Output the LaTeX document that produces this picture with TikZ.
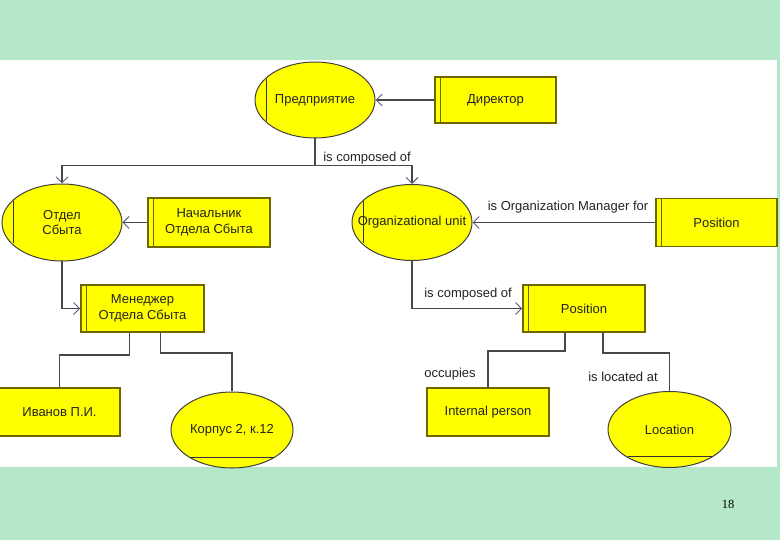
\documentclass[tikz,border=0pt]{standalone}
\usepackage{fontspec}
\setmainfont{Liberation Sans}
\newfontfamily\numfont{Liberation Serif}
\usetikzlibrary{shapes.geometric,arrows.meta,calc}
\definecolor{bggreen}{RGB}{180,232,201}
\definecolor{ylw}{RGB}{255,255,0}
\definecolor{boxedge}{RGB}{110,102,0}
\definecolor{connc}{RGB}{72,72,72}
\definecolor{arrc}{RGB}{90,95,120}
\definecolor{txtc}{RGB}{35,35,35}
\newcommand\dblleft[1]{\draw[dblline] ($(#1.north west)+(6,0)$) -- ($(#1.south west)+(6,0)$);}
\newcommand\elside[1]{\draw[elline] ($(#1.center)+(-49,-21)$) -- ($(#1.center)+(-49,21)$);}
\newcommand\elbottom[1]{\draw[elline] ($(#1.center)+(-42,27)$) -- ($(#1.center)+(42,27)$);}
\begin{document}
\begin{tikzpicture}[x=1pt,y=-1pt,
  ent/.style={draw=boxedge, line width=1.6pt, fill=ylw, inner sep=0pt,
    font=\fontsize{13}{15.5}\selectfont, text=txtc, align=center},
  rel/.style={ellipse, draw=black!75, line width=1pt, fill=ylw, inner sep=0pt},
  eltext/.style={font=\fontsize{13}{15.5}\selectfont, text=txtc, align=center},
  dblline/.style={draw=boxedge, line width=1pt},
  elline/.style={draw=black!80, line width=1pt},
  conn/.style={draw=connc, line width=1.7pt},
  arr/.style={conn, -{Straight Barb[length=6pt,width=12pt,line width=0.9pt,color=arrc]}},
  lbl/.style={font=\fontsize{13}{15.5}\selectfont, text=txtc, inner sep=0pt}
]
\useasboundingbox (0,0) rectangle (780,540);
\fill[bggreen] (0,0) rectangle (780,540);
\fill[white] (0,60) rectangle (777,467);

% entities (ellipses)
\node[rel, minimum width=120pt, minimum height=76pt,
  label={[eltext]center:Предприятие}] (pred) at (315,100) {};
\node[rel, minimum width=120pt, minimum height=77pt,
  label={[eltext]center:Отдел\\Сбыта}] (otdel) at (62,222.5) {};
\node[rel, minimum width=120pt, minimum height=76pt,
  label={[eltext]center:Organizational unit}] (org) at (412,222.5) {};
\node[rel, minimum width=122pt, minimum height=76pt,
  label={[eltext]center:Корпус 2, к.12}] (korp) at (232,430) {};
\node[rel, minimum width=123pt, minimum height=76pt,
  label={[eltext]center:Location}] (loc) at (669.5,429.5) {};
\elside{pred}
\elside{otdel}
\elside{org}
\elbottom{korp}
\elbottom{loc}

% entities (boxes)
\node[ent, minimum width=121pt, minimum height=46pt] (dir) at (495.5,100) {Директор};
\node[ent, minimum width=122pt, minimum height=49pt] (nach) at (209,222.5) {Начальник\\Отдела Сбыта};
\node[ent, minimum width=123pt, minimum height=47pt] (men) at (142.5,308.5) {Менеджер\\Отдела Сбыта};
\node[ent, minimum width=121pt, minimum height=48pt] (ivan) at (59.5,412) {Иванов П.И.};
\node[ent, minimum width=121pt, minimum height=48pt] (posr) at (716.5,222.5) {Position};
\node[ent, minimum width=122pt, minimum height=47pt] (posm) at (584,308.5) {Position};
\node[ent, minimum width=122pt, minimum height=48pt] (inter) at (488,412) {Internal person};
\dblleft{dir}
\dblleft{nach}
\dblleft{men}
\dblleft{posr}
\dblleft{posm}

% connectors
\draw[arr] (dir.west) -- (pred.east);
\draw[arr] (pred.south) -- ++(0,27) -| (otdel.north);
\draw[arr] (pred.south) -- ++(0,27) -| (org.north);
\draw[arr] (nach.west) -- (otdel.east);
\draw[arr] (otdel.south) |- (men.west);
\draw[conn] ($(men.south)+(-13,0)$) -- ++(0,22) -| (ivan.north);
\draw[conn] ($(men.south)+(18,0)$) -- ++(0,20) -| (korp.north);
\draw[arr] (posr.west) -- (org.east);
\draw[arr] (org.south) |- (posm.west);
\draw[conn] ($(posm.south)+(-19,0)$) -- ++(0,18) -| (inter.north);
\draw[conn] ($(posm.south)+(19,0)$) -- ++(0,20) -| (loc.north);

% connector labels
\node[lbl] (l1) at (367,158) {is composed of};
\node[lbl] (l2) at (568,207) {is Organization Manager for};
\node[lbl] (l3) at (468,294) {is composed of};
\node[lbl] (l4) at (450,374) {occupies};
\node[lbl] (l5) at (623,377) {is located at};

% page number
\node[font=\numfont\fontsize{12.5}{15}\selectfont, inner sep=0pt] (pg) at (728,504) {18};
\end{tikzpicture}
\end{document}
